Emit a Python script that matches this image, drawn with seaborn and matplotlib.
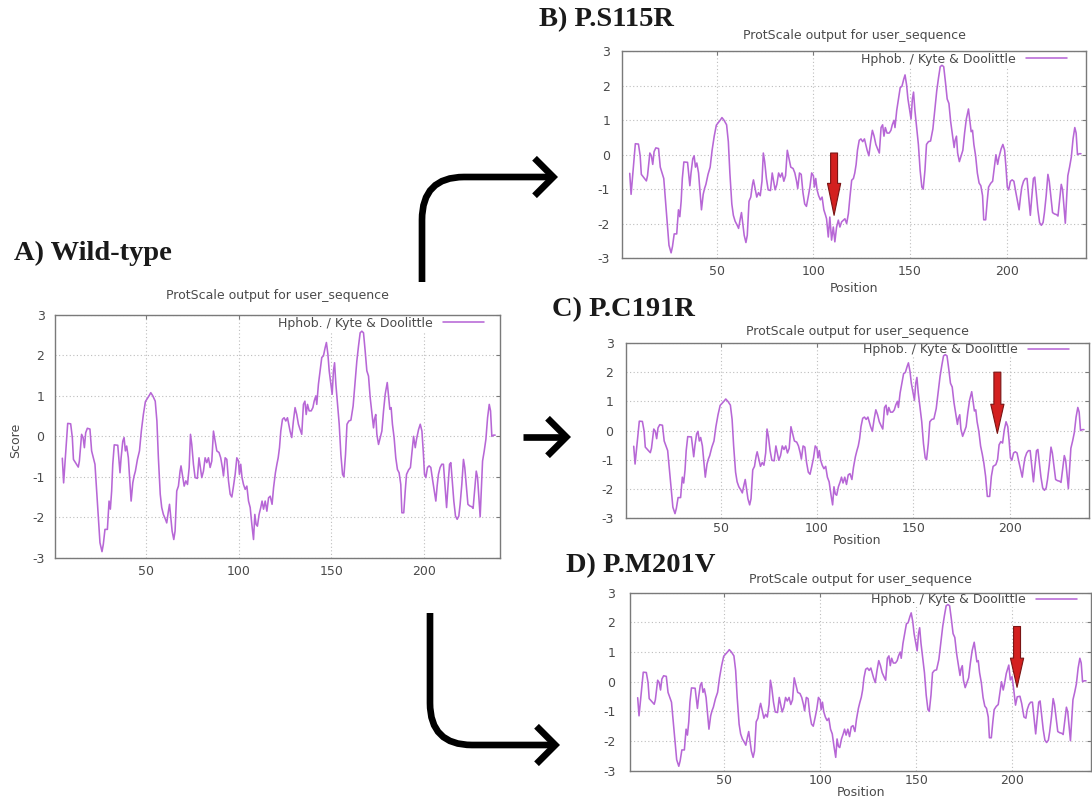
import matplotlib
matplotlib.use("Agg")
import matplotlib.pyplot as plt
import matplotlib.transforms as mtransforms
from matplotlib.patches import FancyArrowPatch
from matplotlib.path import Path
import pandas as pd
import seaborn as sns

# ---------------------------------------------------------------------------
# Kyte & Doolittle hydrophobicity profile (ProtScale, window 9), wild type
# ---------------------------------------------------------------------------
wt_position = [
    5.0, 5.7, 6.4, 7.4, 7.9, 9.5, 10.4, 11.0, 12.4, 13.6, 14.2, 15.4, 16.2, 16.9,
    17.6, 18.5, 19.9, 20.8, 21.7, 22.6, 23.5, 24.4, 25.3, 26.4, 27.1, 28.0, 29.3,
    30.2, 30.9, 31.6, 32.2, 33.0, 34.9, 35.6, 36.1, 36.7, 37.6, 38.3, 39.0, 39.7,
    40.6, 41.5, 42.1, 43.0, 43.7, 44.4, 45.5, 46.6, 47.6, 48.7, 49.8, 50.9, 52.0,
    52.7, 53.8, 55.1, 56.0, 56.8, 57.8, 58.6, 59.5, 60.6, 61.3, 62.2, 62.8, 63.5,
    64.2, 65.1, 65.8, 66.7, 67.6, 68.5, 69.0, 70.0, 70.7, 71.6, 72.5, 73.4, 74.1,
    74.8, 75.7, 76.6, 77.8, 78.7, 80.2, 81.1, 82.0, 82.9, 83.8, 84.7, 85.6, 86.5,
    87.4, 88.3, 89.5, 90.4, 91.3, 91.9, 92.8, 93.7, 94.6, 95.5, 96.4, 97.3, 98.2,
    99.1, 100.0, 100.5, 101.2, 101.9, 102.7, 103.6, 104.5, 105.4, 106.3, 107.2,
    108.1, 108.8, 109.5, 110.2, 111.1, 112.0, 112.7, 113.5, 114.4, 115.3, 116.2,
    117.1, 118.1, 118.9, 119.9, 120.7, 121.4, 122.1, 122.8, 123.7, 124.6, 125.5,
    126.4, 127.1, 127.8, 128.7, 129.6, 130.5, 131.4, 132.3, 133.2, 134.1, 135.0,
    135.8, 136.5, 137.2, 138.1, 139.2, 140.1, 140.8, 141.7, 142.2, 143.1, 144.0,
    144.9, 145.8, 146.7, 147.4, 148.2, 148.9, 149.8, 150.5, 151.2, 151.8, 152.5,
    153.4, 154.3, 155.2, 156.1, 156.8, 157.7, 158.5, 159.5, 160.6, 161.8, 162.9,
    163.8, 164.7, 165.6, 166.5, 167.4, 168.3, 169.2, 170.1, 171.0, 171.9, 172.8,
    173.3, 174.0, 174.6, 175.5, 176.4, 177.3, 178.2, 179.1, 180.2, 180.9, 181.6,
    182.3, 183.0, 183.9, 184.8, 185.7, 186.6, 187.5, 188.1, 189.1, 189.9, 190.6,
    191.7, 192.7, 193.5, 194.4, 195.3, 196.0, 197.1, 198.0, 198.9, 199.6, 200.3,
    201.0, 201.9, 202.8, 203.7, 204.6, 205.7, 206.4, 207.1, 207.8, 208.7, 209.6,
    210.5, 211.4, 212.2, 212.9, 213.8, 214.5, 215.4, 216.1, 217.0, 217.9, 218.8,
    219.5, 220.4, 221.3, 222.0, 222.8, 223.7, 224.7, 225.8, 226.5, 227.3, 228.2,
    228.9, 229.6, 230.3, 230.9, 231.6, 232.5, 233.4, 234.3, 235.2, 235.9, 236.6,
    237.5, 238.4,
]
wt_score = [
    -0.54, -1.15, -0.69, -0.03, 0.32, 0.31, -0.03, -0.57, -0.67, -0.76, -0.61, 0.05,
    -0.03, -0.28, 0.09, 0.20, 0.18, -0.36, -0.53, -0.69, -1.35, -2.00, -2.63, -2.85,
    -2.67, -2.30, -2.30, -1.60, -1.80, -1.35, -0.69, -0.21, -0.22, -0.61, -0.90,
    -0.53, -0.12, -0.03, -0.36, -0.24, -0.53, -1.19, -1.60, -1.15, -0.98, -0.86,
    -0.57, -0.36, 0.13, 0.54, 0.86, 0.94, 1.02, 1.08, 1.00, 0.87, 0.38, -0.53,
    -1.43, -1.76, -1.93, -2.05, -2.14, -1.85, -1.68, -2.00, -2.34, -2.55, -2.34,
    -1.35, -1.23, -0.86, -0.73, -1.02, -1.23, -1.10, -1.19, -0.77, 0.05, -0.20,
    -0.69, -1.02, -1.04, -0.53, -1.02, -0.86, -0.53, -0.65, -0.53, -0.77, -0.61,
    0.13, -0.12, -0.36, -0.40, -0.53, -0.77, -0.98, -0.53, -0.57, -1.10, -1.43,
    -1.50, -1.23, -0.94, -0.53, -0.61, -0.94, -0.69, -1.02, -1.19, -1.31, -1.23,
    -1.60, -1.76, -2.18, -2.55, -1.93, -2.18, -2.22, -1.93, -1.76, -1.60, -1.80,
    -1.60, -1.85, -1.52, -1.48, -1.68, -1.27, -0.90, -0.69, -0.53, -0.28, 0.13,
    0.42, 0.46, 0.38, 0.46, 0.30, 0.13, -0.03, 0.38, 0.71, 0.54, 0.30, 0.17, 0.05,
    0.79, 0.87, 0.54, 0.79, 0.63, 0.63, 0.71, 0.87, 1.00, 0.79, 1.29, 1.62, 1.95,
    1.99, 2.19, 2.32, 2.03, 1.62, 1.29, 1.04, 1.62, 1.82, 1.29, 0.79, 0.30, -0.45,
    -0.94, -1.00, -0.45, 0.30, 0.38, 0.40, 0.75, 1.37, 1.86, 2.23, 2.56, 2.60,
    2.56, 2.11, 1.62, 1.49, 0.96, 0.59, 0.21, 0.42, 0.54, 0.05, -0.20, -0.03, 0.13,
    0.63, 1.04, 1.33, 1.00, 0.67, 0.71, 0.30, -0.03, -0.53, -0.82, -0.90, -1.19,
    -1.89, -1.89, -1.35, -0.94, -0.83, -0.77, -0.40, 0.00, -0.28, -0.07, 0.17,
    0.30, 0.13, -0.36, -0.94, -1.02, -0.77, -0.73, -0.77, -1.06, -1.39, -1.60,
    -1.23, -0.94, -0.77, -0.69, -0.69, -1.27, -1.76, -1.27, -0.69, -0.65, -1.19,
    -1.60, -1.97, -2.05, -1.97, -1.68, -1.19, -0.57, -0.77, -1.19, -1.68, -1.72,
    -1.74, -1.78, -1.35, -0.86, -1.02, -1.52, -1.99, -1.35, -0.61, -0.36, -0.07,
    0.46, 0.79, 0.63, 0.00, 0.03, 0.03,
]

# Profiles of the three variants inside the windows that cover the mutated residue
s115r_position = [106.8, 107.7, 108.5, 109.4, 110.3, 111.1, 112.0, 112.9, 113.7,
                  114.6, 115.5, 116.3, 117.2, 118.1, 118.9, 119.8]
s115r_score = [-1.86, -2.39, -1.81, -2.48, -2.10, -2.53, -2.10, -1.90, -2.10,
               -1.95, -1.90, -1.86, -2.00, -1.71, -1.23, -0.74]

c191r_position = [186.5, 187.4, 188.3, 189.5, 190.4, 191.3, 192.7, 193.6, 194.4,
                  195.3, 196.2, 197.1]
c191r_score = [-1.12, -1.57, -2.26, -2.26, -1.57, -1.23, -1.17, -1.00, -0.49,
               -0.38, -0.43, 0.02]

m201v_position = [196.0, 196.9, 198.2, 199.0, 199.9, 200.8, 201.7, 202.6, 204.0,
                  204.9, 206.1]
m201v_score = [-0.06, 0.28, 0.56, 0.06, 0.17, -0.28, -0.79, -0.51, -0.49, -0.73,
               -1.19]

# Mutation markers: (position, arrow tail score, arrow tip score)
s115r_marker = (110.7, 0.05, -1.76)
c191r_marker = (193.5, 2.00, -0.10)
m201v_marker = (202.5, 1.86, -0.19)

x_ticks = [50, 100, 150, 200]
y_ticks = [-3, -2, -1, 0, 1, 2, 3]
panel_labels = ["A) Wild-type", "B) P.S115R", "C) P.C191R", "D) P.M201V"]
plot_title = "ProtScale output for user_sequence"
legend_label = "Hphob. / Kyte & Doolittle"

LINE = "#b767d6"
TXT = "#4a4a4a"

W, H = 1092, 798

sns.set_theme(style="white")
plt.rcParams["font.family"] = ["DejaVu Sans"]
plt.rcParams["axes.unicode_minus"] = False

fig = plt.figure(figsize=(W / 100, H / 100), dpi=100)
fig.patch.set_facecolor("white")
PX = mtransforms.Affine2D().scale(1 / W, -1 / H).translate(0, 1) + fig.transFigure


def with_variant(pos, score, var_pos, var_score):
    lo, hi = var_pos[0] - 0.3, var_pos[-1] + 0.3
    kept = [(p, s) for p, s in zip(pos, score) if p < lo or p > hi]
    merged = sorted(kept + list(zip(var_pos, var_score)))
    return [p for p, _ in merged], [s for _, s in merged]


def panel(box, pos, score, title_y, xlab_y, ypad, xpad, legend_xy,
          show_score=False, marker=None, head_len=22):
    left, top, right, bottom = box
    ax = fig.add_axes([left / W, 1 - bottom / H, (right - left) / W, (bottom - top) / H])
    df = pd.DataFrame({"Position": pos, "Score": score})
    sns.lineplot(data=df, x="Position", y="Score", ax=ax, color=LINE, lw=1.15,
                 label=legend_label, estimator=None, sort=False, zorder=3)
    ax.set_xlim(1, 241)
    ax.set_ylim(-3, 3)
    ax.set_xticks(x_ticks)
    ax.set_yticks(y_ticks)
    ax.grid(True, ls=(0, (1, 2.2)), color="#bdbdbd", lw=0.8)
    for s in ax.spines.values():
        s.set_color("#7a7a7a")
        s.set_linewidth(1.0)
    ax.tick_params(axis="both", direction="in", top=True, right=True, length=3,
                   width=0.8, color="#7a7a7a", labelsize=9, labelcolor=TXT)
    ax.tick_params(axis="y", pad=ypad)
    ax.tick_params(axis="x", pad=xpad)
    ax.set_xlabel("")
    ax.set_ylabel("")
    xc = (left + right) / 2
    fig.text(xc / W, 1 - title_y / H, plot_title, ha="center", va="center",
             fontsize=9, color=TXT)
    if xlab_y is not None:
        fig.text(xc / W, 1 - xlab_y / H, "Position", ha="center", va="center",
                 fontsize=9, color=TXT)
    if show_score:
        fig.text(16 / W, 1 - 440 / H, "Score", ha="center", va="center",
                 rotation=90, fontsize=9, color=TXT)
    lx, ly = legend_xy
    leg = ax.legend(loc="center right", bbox_to_anchor=(lx / W, 1 - ly / H),
                    bbox_transform=fig.transFigure, frameon=True, facecolor="white",
                    edgecolor="none", framealpha=1, fancybox=False,
                    markerfirst=False, fontsize=9, labelcolor=TXT,
                    handlelength=3.3, handletextpad=0.8, borderpad=0.1,
                    borderaxespad=0)
    leg.set_zorder(2)
    if marker is not None:
        mx, tail, tip = marker
        ax.annotate("", xy=(mx, tip), xytext=(mx, tail),
                    arrowprops=dict(arrowstyle=f"simple,head_length={head_len},head_width=9.5,tail_width=5",
                                    fc="#d3201f", ec="#7a1414", lw=0.8,
                                    shrinkA=0, shrinkB=0, mutation_scale=1),
                    zorder=5)
    return ax


# A) wild type
panel((54.9, 315, 500, 557.7), wt_position, wt_score, title_y=296, xlab_y=None,
      ypad=7.5, xpad=5.5, legend_xy=(485, 323), show_score=True)

# B) S115R
b_pos, b_score = with_variant(wt_position, wt_score, s115r_position, s115r_score)
panel((622, 51.5, 1086, 258), b_pos, b_score, title_y=35, xlab_y=288,
      ypad=8.5, xpad=5, legend_xy=(1068, 59), marker=s115r_marker, head_len=23)

# C) C191R
c_pos, c_score = with_variant(wt_position, wt_score, c191r_position, c191r_score)
panel((626, 343, 1089, 518), c_pos, c_score, title_y=331, xlab_y=541,
      ypad=9, xpad=2.7, legend_xy=(1070, 349.5), marker=c191r_marker, head_len=21)

# D) M201V
d_pos, d_score = with_variant(wt_position, wt_score, m201v_position, m201v_score)
panel((630, 592.7, 1091, 770.7), d_pos, d_score, title_y=579, xlab_y=792,
      ypad=10.5, xpad=2.5, legend_xy=(1078, 599.5), marker=m201v_marker, head_len=21)

# Panel captions
label_font = dict(family=["Liberation Serif", "DejaVu Serif"], fontweight="bold",
                  fontsize=20.5, color="#1a1a1a", va="center", ha="left")
for text, (x, y) in zip(panel_labels, [(14, 253), (539, 20), (552, 310), (566, 566)]):
    fig.text(x / W, 1 - y / H, text, **label_font)

# Black connector arrows between the panels
head = "->,head_length=0.45,head_width=0.45"
up_path = Path([(422, 282), (422, 220), (422, 177), (464, 177), (558, 177)],
               [Path.MOVETO, Path.LINETO, Path.CURVE3, Path.CURVE3, Path.LINETO])
mid_path = Path([(523, 437), (571, 437)], [Path.MOVETO, Path.LINETO])
down_path = Path([(430, 613), (430, 703), (430, 745), (472, 745), (560, 745)],
                 [Path.MOVETO, Path.LINETO, Path.CURVE3, Path.CURVE3, Path.LINETO])
for p in (up_path, mid_path, down_path):
    fig.add_artist(FancyArrowPatch(path=p, arrowstyle=head, mutation_scale=30,
                                   lw=4.8, color="black", transform=PX,
                                   shrinkA=0, shrinkB=0, joinstyle="miter",
                                   capstyle="butt"))

fig.savefig("out.png", dpi=100, facecolor="white")
